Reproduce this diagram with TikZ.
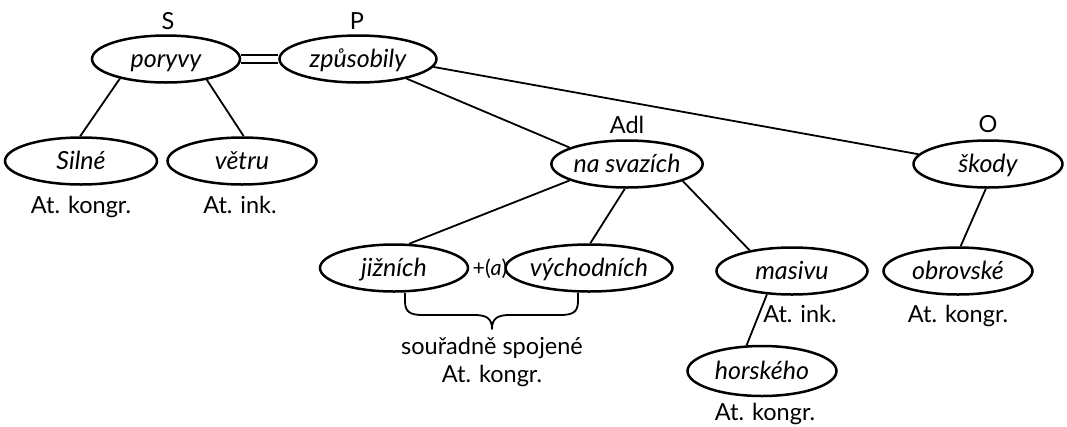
\documentclass[tikz,border=0pt]{standalone}
\usepackage{fontspec}
\setmainfont{Lato}
\usetikzlibrary{shapes.geometric,backgrounds}
\begin{document}
\begin{tikzpicture}[x=1pt,y=-1pt,
  word/.style={ellipse, draw, line width=2.5pt, minimum width=150pt,
    minimum height=47pt, inner sep=0pt, fill=white,
    text height=18pt, text depth=2pt,
    font=\fontsize{25}{29}\selectfont\itshape},
  tag/.style={anchor=base, inner sep=0pt, font=\fontsize{23.5}{28}\selectfont},
  link/.style={line width=1.8pt},
  brace/.style={line width=1.8pt, line join=round},
]
\useasboundingbox (0,0) rectangle (1067,426);

% words of the sentence
\node[word, minimum width=148pt] (poryvy)    at (166,59)  {poryvy};
\node[word, minimum width=157pt] (zpusobily) at (358,59)  {způsobily};
\node[word, minimum width=152pt] (silne)     at (81,161)  {Silné};
\node[word, minimum width=149pt] (vetru)     at (242,161) {větru};
\node[word] (svazich)    at (627,164) {na svazích};
\node[word, minimum width=149pt] (skody)     at (988,164) {škody};
\node[word, minimum width=148pt] (jiznich)   at (394,268) {jižních};
\node[word, minimum width=148pt] (vychodnich) at (589,268) {východních};
\node[word, minimum width=151pt] (masivu)    at (792,271) {masivu};
\node[word, minimum width=149pt] (obrovske)  at (958,271) {obrovské};
\node[word, minimum width=149pt, minimum height=50pt] (horskeho) at (762,371) {horského};

% sentence-member labels
\node[tag] (lS)   at (168,29)  {S};
\node[tag] (lP)   at (357,29)  {P};
\node[tag] (lAdl) at (627,133) {Adl};
\node[tag] (lO)   at (988,132) {O};

% attribute labels
\node[tag] (aSilne)    at (81,213)  {At. kongr.};
\node[tag] (aVetru)    at (240,213) {At. ink.};
\node[tag] (aMasivu)   at (800,322) {At. ink.};
\node[tag] (aObrovske) at (958,322) {At. kongr.};
\node[tag] (aHorskeho) at (765,420) {At. kongr.};
\node[tag, font=\fontsize{21.5}{26}\selectfont] (plus) at (490,275) {+(\textit{a})};
\node[tag] (coordA)    at (492,354) {souřadně spojené};
\node[tag] (coordB)    at (492,382) {At. kongr.};

% brace joining the coordinated attributes
\coordinate (bl) at (405,293);
\coordinate (br) at (578,293);
\coordinate (bt) at (492,329);
\draw[brace] (bl) -- (405,301) .. controls (405,312) and (410,315) .. (423,315)
  -- (474,315) .. controls (486,315) and (492,318) .. (bt)
  .. controls (492,318) and (498,315) .. (510,315)
  -- (560,315) .. controls (573,315) and (578,312) .. (578,301) -- (br);

\begin{scope}[on background layer]
  % predicative bond
  \draw[line width=2pt, double, double distance=6.5pt] (poryvy.east) -- (zpusobily.west);
  % dependency edges
  \draw[link] (poryvy.203) -- (silne.92);
  \draw[link] (poryvy.333) -- (vetru.86);
  \draw[link] (zpusobily.338) -- (svazich.164);
  \draw[link] (zpusobily.354) -- (skody.172);
  \draw[link] (svazich.196) -- (jiznich.58);
  \draw[link] (svazich.265) -- (vychodnich.87);
  \draw[link] (svazich.343) -- (masivu.154);
  \draw[link] (skody.265) -- (obrovske.84);
  \draw[link] (masivu.223) -- (horskeho.121);
\end{scope}
\end{tikzpicture}
\end{document}
